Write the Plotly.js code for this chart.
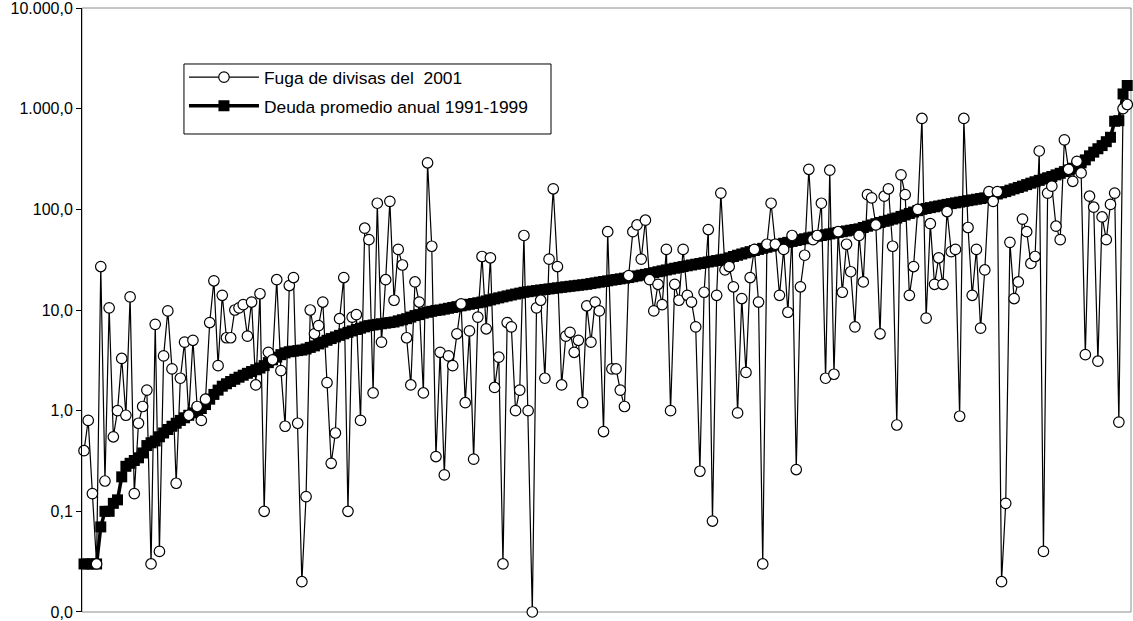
<!DOCTYPE html>
<html>
<head>
<meta charset="utf-8">
<script src="https://cdn.plot.ly/plotly-3.0.1.min.js"></script>
<style>
  html, body { margin: 0; padding: 0; background: #ffffff; }
  #chart { width: 1133px; height: 621px; }
</style>
</head>
<body>
<div id="chart"></div>
<script>
// Series names
const nombreFuga = "Fuga de divisas del\u00a0 2001";
const nombreDeuda = "Deuda promedio anual 1991-1999";

// Fuga de divisas del 2001 (one value per country, ordered by average debt)
const fuga = [
  0.4, 0.8, 0.15, 0.03, 27, 0.2, 10.5, 0.55, 1.0, 3.3,
  0.9, 13.5, 0.15, 0.75, 1.1, 1.6, 0.03, 7.2, 0.04, 3.5,
  9.8, 2.6, 0.19, 2.1, 4.8, 0.9, 5.0, 1.1, 0.8, 1.3,
  7.5, 19.5, 2.8, 14, 5.3, 5.3, 10, 10.5, 11.3, 5.5,
  12, 1.8, 14.5, 0.1, 3.8, 3.2, 20, 2.5, 0.7, 17.5,
  21, 0.75, 0.02, 0.14, 10, 5.8, 7, 12, 1.9, 0.3,
  0.6, 8.2, 21, 0.1, 8.5, 9, 0.8, 65, 50, 1.5,
  115, 4.8, 20, 120, 12.5, 40, 28, 5.3, 1.8, 19,
  12, 1.5, 290, 43, 0.35, 3.8, 0.23, 3.5, 2.8, 5.8,
  11.5, 1.2, 6.2, 0.33, 8.5, 34, 6.5, 33, 1.7, 3.4,
  0.03, 7.5, 6.8, 1.0, 1.6, 55, 1.0, 0.01, 10.5, 12.5,
  2.1, 32, 160, 27, 1.8, 5.5, 6, 3.8, 5, 1.2,
  11, 4.8, 12, 9.8, 0.62, 60, 2.6, 2.6, 1.6, 1.1,
  22, 60, 70, 32, 78, 20, 9.8, 18, 11.3, 40,
  1.0, 18, 12.5, 40, 14, 12, 6.8, 0.25, 15, 63,
  0.08, 14, 145, 25, 27, 17, 0.95, 13, 2.4, 21,
  40, 12, 0.03, 45, 115, 45, 14, 40, 9.5, 55,
  0.26, 17, 35, 250, 50, 55, 115, 2.1, 245, 2.3,
  60, 15, 45, 24, 6.8, 55, 19, 140, 130, 70,
  5.8, 135, 160, 43, 0.72, 220, 140, 14, 27, 100,
  800, 8.3, 72, 18, 33, 18, 95, 38, 40, 0.88,
  800, 66, 14, 40, 6.6, 25, 150, 120, 150, 0.02,
  0.12, 47, 13, 19, 80, 60, 29, 34, 380, 0.04,
  145, 170, 68, 50, 490, 250, 190, 300, 230, 3.6,
  135, 105, 3.1, 84, 50, 112, 145, 0.77, 1000, 1100
];

// Deuda promedio anual 1991-1999 (ascending)
const deuda = [
  0.03, 0.03, 0.03, 0.03, 0.07, 0.1, 0.1, 0.12, 0.13, 0.22,
  0.28, 0.3, 0.32, 0.34, 0.38, 0.45, 0.48, 0.5, 0.55, 0.6,
  0.65, 0.7, 0.75, 0.8, 0.85, 0.9, 0.95, 1.0, 1.05, 1.15,
  1.3, 1.45, 1.6, 1.75, 1.85, 1.95, 2.05, 2.15, 2.25, 2.35,
  2.45, 2.55, 2.65, 2.8, 3.0, 3.2, 3.4, 3.6, 3.75, 3.85,
  3.9, 3.95, 4.0, 4.1, 4.25, 4.4, 4.6, 4.8, 5.0, 5.2,
  5.4, 5.6, 5.8, 6.0, 6.2, 6.4, 6.6, 6.8, 7.0, 7.1,
  7.2, 7.3, 7.4, 7.5, 7.6, 7.8, 8.0, 8.2, 8.5, 8.8,
  9.0, 9.3, 9.5, 9.7, 9.9, 10.0, 10.2, 10.4, 10.6, 10.8,
  11.0, 11.2, 11.4, 11.6, 11.8, 12.0, 12.3, 12.6, 12.9, 13.2,
  13.5, 13.8, 14.1, 14.4, 14.7, 15.0, 15.2, 15.4, 15.6, 15.8,
  16.0, 16.2, 16.4, 16.6, 16.8, 17.0, 17.2, 17.4, 17.6, 17.8,
  18.0, 18.3, 18.6, 18.9, 19.2, 19.5, 19.8, 20.1, 20.4, 20.7,
  21.0, 21.4, 21.8, 22.2, 22.6, 23.0, 23.5, 24.0, 24.5, 25.0,
  25.5, 26.0, 26.5, 27.0, 27.5, 28.0, 28.5, 29.0, 29.5, 30.0,
  30.5, 31.0, 31.5, 32.0, 33.0, 34.0, 35.0, 36.0, 37.0, 38.0,
  39.0, 40.0, 41.0, 42.0, 43.0, 44.0, 45.0, 46.0, 47.0, 48.0,
  49.0, 50.0, 51.0, 52.0, 53.0, 54.0, 55.0, 56.0, 57.0, 58.0,
  59.0, 60.0, 61.0, 62.0, 63.0, 64.0, 66.0, 68.0, 70.0, 72.0,
  74.0, 76.0, 78.0, 80.0, 82.0, 85.0, 88.0, 91.0, 94.0, 97.0,
  100, 102, 104, 106, 108, 110, 112, 114, 116, 118,
  120, 122, 124, 126, 128, 130, 133, 138, 142, 146,
  150, 155, 160, 165, 170, 176, 182, 188, 194, 200,
  206, 212, 220, 228, 237, 246, 256, 270, 290, 310,
  340, 370, 400, 430, 470, 520, 750, 760, 1400, 1700
];

// Y-axis tick values
const yTicks = [0.01, 0.1, 1, 10, 100, 1000, 10000];

const idx = fuga.map((_, i) => i + 1);

const traceDeuda = {
  x: idx, y: deuda, name: nombreDeuda,
  type: 'scatter', mode: 'lines+markers',
  line: { color: '#000000', width: 3.5 },
  marker: { symbol: 'square', size: 11, color: '#000000', line: { width: 0 } },
  legendrank: 2, legendgroup: 'b', cliponaxis: false
};
const traceFuga = {
  x: idx, y: fuga, name: nombreFuga,
  type: 'scatter', mode: 'lines+markers',
  line: { color: '#000000', width: 1.2 },
  marker: { symbol: 'circle', size: 10.5, color: '#ffffff', line: { color: '#000000', width: 1.2 } },
  legendrank: 1, legendgroup: 'a', cliponaxis: false
};

const layout = {
  width: 1133, height: 621,
  margin: { l: 82, r: 2, t: 8, b: 9, pad: 0 },
  paper_bgcolor: '#ffffff', plot_bgcolor: '#ffffff',
  separators: ',.',
  font: { family: 'Liberation Sans, Arial, sans-serif', size: 16, color: '#000000' },
  showlegend: true,
  legend: {
    x: 0.0972, y: 0.915, xanchor: 'left', yanchor: 'top',
    bgcolor: 'rgba(0,0,0,0)', borderwidth: 0,
    font: { family: 'Liberation Sans, Arial, sans-serif', size: 17.4, color: '#000000' },
    traceorder: 'grouped', tracegroupgap: 3, itemwidth: 70
  },
  xaxis: {
    range: [0.52, 250.9], showgrid: false, zeroline: false,
    showticklabels: false, ticks: '', showline: false
  },
  yaxis: {
    type: 'log', range: [-2.0002, 4.0002], tickvals: yTicks, tickformat: ',.1f',
    ticklabeloverflow: 'allow',
    showgrid: false, zeroline: false, showline: true, linecolor: '#000000', linewidth: 1,
    ticks: 'outside', ticklen: 5, tickcolor: '#000000', tickwidth: 1,
    tickfont: { family: 'Liberation Sans, Arial, sans-serif', size: 16, color: '#000000' }
  },
  shapes: [
    {
      type: 'rect', xref: 'paper', yref: 'paper', x0: 0, x1: 1, y0: 0, y1: 1,
      line: { color: '#8c8c8c', width: 1 }, layer: 'below'
    },
    {
      type: 'rect', xref: 'paper', yref: 'paper', x0: 0.0972, x1: 0.4471, y0: 0.7914, y1: 0.9073,
      line: { color: '#000000', width: 1 }, fillcolor: '#ffffff', layer: 'above'
    }
  ]
};

Plotly.newPlot('chart', [traceDeuda, traceFuga], layout, { displayModeBar: false, staticPlot: true });
</script>
</body>
</html>
